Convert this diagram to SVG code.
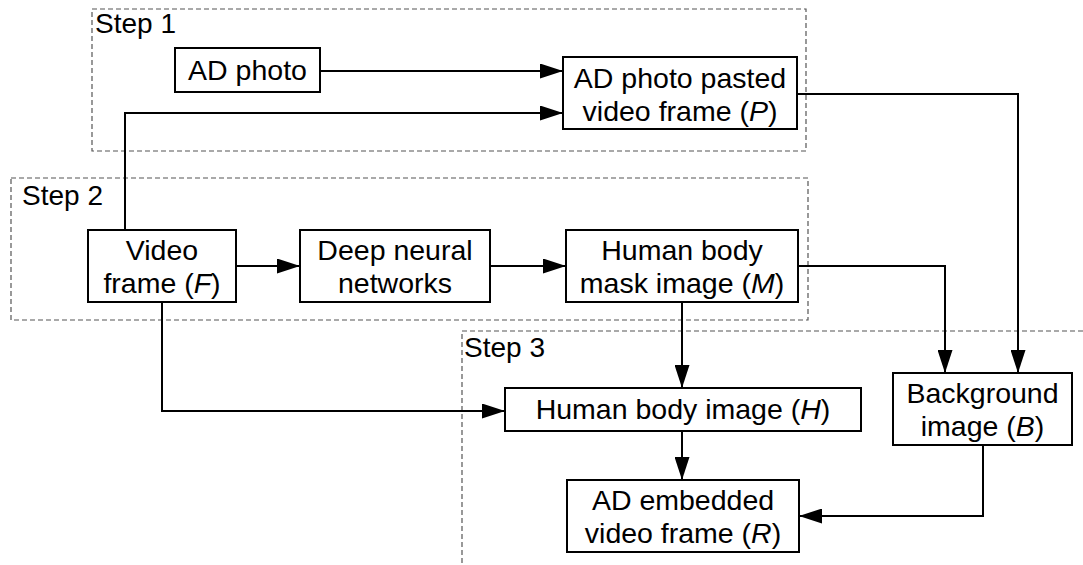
<svg xmlns="http://www.w3.org/2000/svg" width="1083" height="565" viewBox="0 0 1083 565">
<defs>
<marker id="arr" markerUnits="userSpaceOnUse" markerWidth="23" markerHeight="15" refX="23" refY="7.5" orient="auto">
<path d="M0,0 L23,7.5 L0,15 z" fill="#000"/>
</marker>
<style>
.box{fill:#fff;stroke:#000;stroke-width:2}
.step{fill:none;stroke:#555;stroke-width:1.2;stroke-dasharray:5,3}
.t{font-family:"Liberation Sans",Arial,sans-serif;font-size:28.5px;fill:#000;text-anchor:middle}
.lbl{font-family:"Liberation Sans",Arial,sans-serif;font-size:28px;fill:#000}
.c{fill:none;stroke:#000;stroke-width:2;marker-end:url(#arr)}
.i{font-style:italic}
</style>
</defs>
<rect width="1083" height="565" fill="#fff"/>
<g id="steps">
<rect class="step" x="92" y="9" width="714" height="142"/>
<text class="lbl" x="95" y="33">Step 1</text>
<rect class="step" x="11" y="178" width="797" height="142"/>
<text class="lbl" x="22" y="205">Step 2</text>
<path class="step" d="M1083,331 H462 V565"/>
<text class="lbl" x="464" y="357">Step 3</text>
</g>
<g id="connectors">
<path class="c" d="M320,71 H563"/>
<path class="c" d="M125,230 V113 H563"/>
<path class="c" d="M797,94 H1018 V373"/>
<path class="c" d="M236,266 H300"/>
<path class="c" d="M490,266 H566"/>
<path class="c" d="M798,266 H945 V373"/>
<path class="c" d="M682,302 V388"/>
<path class="c" d="M162,302 V411 H505"/>
<path class="c" d="M682,431 V480"/>
<path class="c" d="M983,445 V516 H799"/>
</g>
<g id="ad-photo">
<rect class="box" x="175" y="48" width="145" height="44"/>
<text class="t" x="247.5" y="80">AD photo</text>
</g>
<g id="pasted-frame">
<rect class="box" x="563" y="57" width="234" height="72"/>
<text class="t" x="680" y="88">AD photo pasted</text>
<text class="t" x="680" y="121">video frame (<tspan class="i">P</tspan>)</text>
</g>
<g id="video-frame">
<rect class="box" x="88" y="230" width="148" height="72"/>
<text class="t" x="162" y="260">Video</text>
<text class="t" x="162" y="293">frame (<tspan class="i">F</tspan>)</text>
</g>
<g id="dnn">
<rect class="box" x="300" y="230" width="190" height="72"/>
<text class="t" x="395" y="260">Deep neural</text>
<text class="t" x="395" y="293">networks</text>
</g>
<g id="mask">
<rect class="box" x="566" y="230" width="232" height="72"/>
<text class="t" x="682" y="260">Human body</text>
<text class="t" x="682" y="293">mask image (<tspan class="i">M</tspan>)</text>
</g>
<g id="human-body">
<rect class="box" x="505" y="388" width="356" height="43"/>
<text class="t" x="683" y="419">Human body image (<tspan class="i">H</tspan>)</text>
</g>
<g id="background">
<rect class="box" x="893" y="373" width="179" height="72"/>
<text class="t" x="982.5" y="403">Background</text>
<text class="t" x="982.5" y="436">image (<tspan class="i">B</tspan>)</text>
</g>
<g id="result">
<rect class="box" x="567" y="480" width="232" height="72"/>
<text class="t" x="683" y="510">AD embedded</text>
<text class="t" x="683" y="543">video frame (<tspan class="i">R</tspan>)</text>
</g>
</svg>
